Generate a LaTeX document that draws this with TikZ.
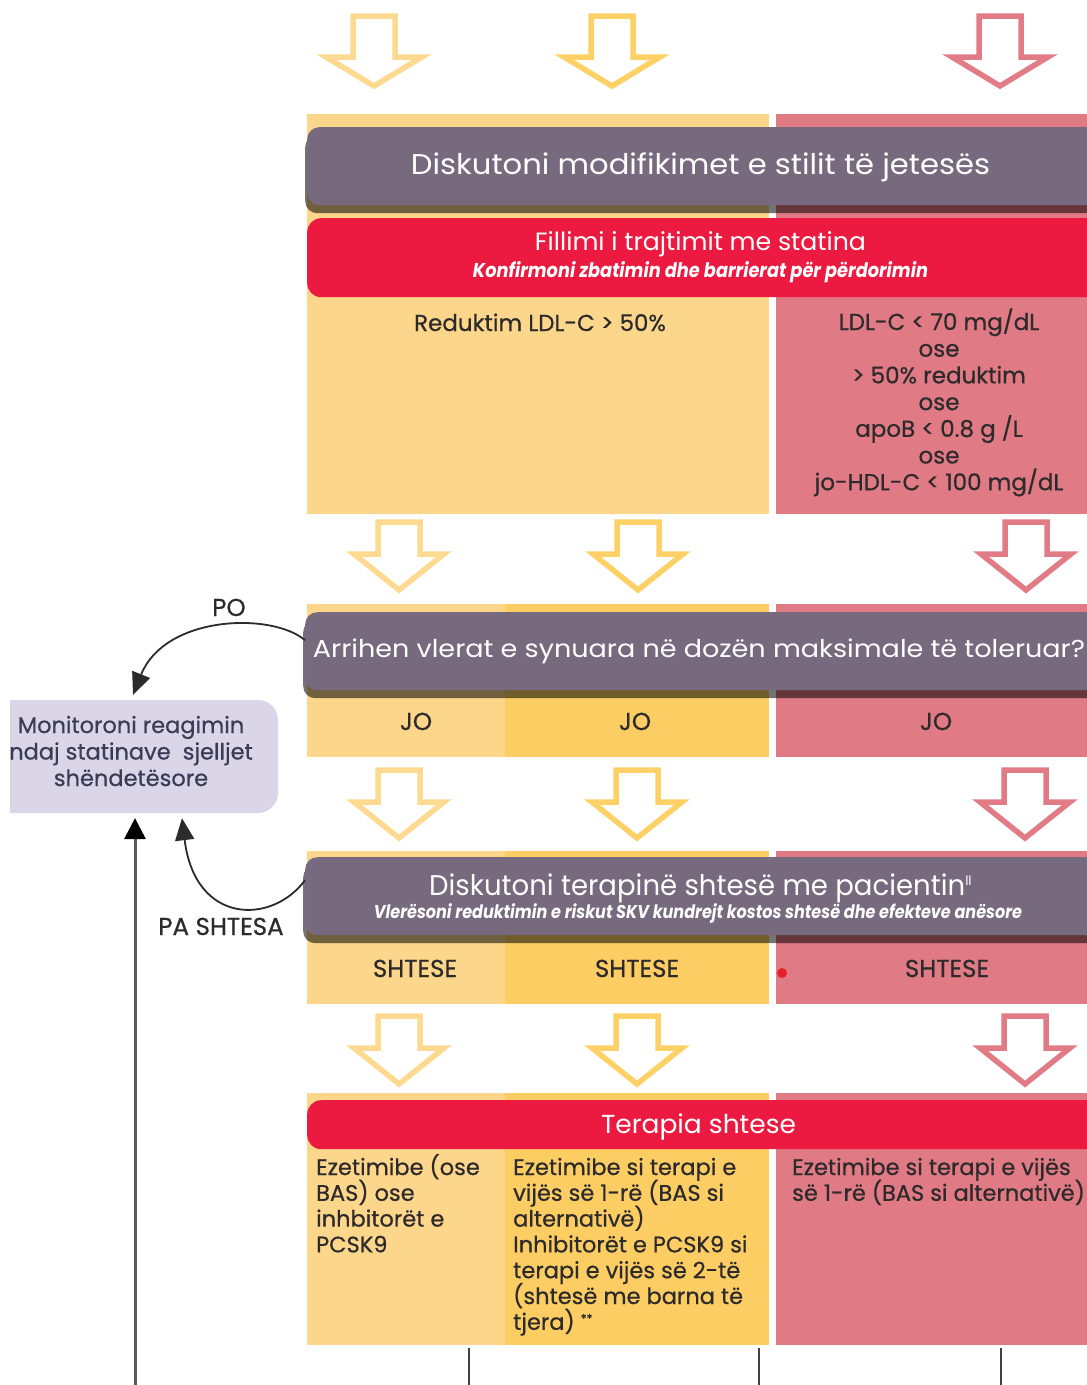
\documentclass[tikz,border=0pt]{standalone}
\usepackage{fontspec}
\usepackage{graphicx}
\setmainfont{Poppins}
\newfontfamily\med{Poppins}[FakeBold=0.6]
\usetikzlibrary{arrows.meta}
\definecolor{ylight}{HTML}{FCD68A}
\definecolor{ymid}{HTML}{FCCD63}
\definecolor{redcol}{HTML}{E07A84}
\definecolor{graybar}{HTML}{786A7E}
\definecolor{redbar}{HTML}{EC1A40}
\definecolor{lav}{HTML}{DAD6E8}
\definecolor{arrL}{HTML}{FDDA8F}
\definecolor{arrM}{HTML}{FDD165}
\definecolor{arrR}{HTML}{E17C86}
\definecolor{labc}{HTML}{2D2A2B}
\definecolor{monc}{HTML}{3A3B55}
\definecolor{dotc}{HTML}{E5202A}
\newcommand\fitw[2]{\resizebox{#1}{\height}{#2}}
\newcommand\dnarrow[7]{% cx, top, shoulder, tip, halfhead, halfshaft, colour
  \draw[#7, line width=5.5pt, fill=white, line join=miter]
    (#1-#6,#2) -- (#1+#6,#2) -- (#1+#6,#3) -- (#1+#5,#3) -- (#1,#4)
    -- (#1-#5,#3) -- (#1-#6,#3) -- cycle;}
\tikzset{
  hdr/.style={text=white, font=\fontsize{28.5}{28.5}\selectfont, anchor=base, inner sep=0pt},
  hdrs/.style={text=white, font=\fontsize{25}{25}\selectfont, anchor=base, inner sep=0pt},
  sub/.style={text=white, font=\fontsize{20}{20}\selectfont\bfseries\itshape, anchor=base, inner sep=0pt},
  lab/.style={text=labc, font=\med\fontsize{23}{23}\selectfont, anchor=base, inner sep=0pt},
  caps/.style={text=labc, font=\med\fontsize{24.5}{24.5}\selectfont, anchor=base, inner sep=0pt},
  body/.style={text=labc, font=\med\fontsize{22.5}{22.5}\selectfont, anchor=base west, inner sep=0pt},
  montxt/.style={text=monc, font=\med\fontsize{22.5}{22.5}\selectfont, anchor=base, inner sep=0pt},
  barnode/.style={fill=graybar, rounded corners=12pt, anchor=north west, minimum width=820pt, minimum height=78pt, inner sep=0pt},
  shadownode/.style={fill=black, opacity=0.55, rounded corners=12pt, anchor=north west, minimum width=820pt, minimum height=78pt, inner sep=0pt},
  redbarnode/.style={fill=redbar, rounded corners=14pt, anchor=north west, minimum width=820pt, inner sep=0pt},
  conn/.style={draw=labc, line width=1.8pt, -{Triangle[length=22pt,width=19pt]}},
  vconn/.style={draw=black!65, line width=3pt, -{Triangle[length=21pt,width=22pt,color=black,line width=0pt]}},
  botline/.style={draw=black!75, line width=2pt},
}
\begin{document}
\begin{tikzpicture}[x=1pt,y=-1pt]
\clip (0,0) rectangle (1087,1385);
\fill[white] (0,0) rectangle (1087,1385);

% ---------- top arrows ----------
\dnarrow{374}{16}{57}{86}{48}{21}{arrL}
\dnarrow{612}{16}{57}{86}{48}{21}{arrM}
\dnarrow{1000}{16}{57}{86}{48}{21}{arrR}

% ---------- section 1 ----------
\fill[ylight] (307,114) rectangle (769,514);
\fill[redcol] (776,114) rectangle (1087,514);
\node[shadownode] at (305,135) {};
\node[barnode] (bar1) at (307,127) {};
\node[hdr] (t1) at (700.5,174) {\fitw{579pt}{Diskutoni modifikimet e stilit të jetesës}};
\node[redbarnode, minimum height=79pt] (rbar1) at (307,218) {};
\node[hdrs] (t2) at (700.5,250) {\fitw{331pt}{Fillimi i trajtimit me statina}};
\node[sub] (t3) at (700.5,277) {\fitw{455pt}{Konfirmoni zbatimin dhe barrierat për përdorimin}};
\node[lab] (red1) at (540,331) {Reduktim LDL-C > 50\%};
\node[lab] (goal0) at (939,330) {LDL-C < 70 mg/dL};
\node[lab] (goal1) at (939,356.7) {ose};
\node[lab] (goal2) at (939,383.4) {> 50\% reduktim};
\node[lab] (goal3) at (939,410.1) {ose};
\node[lab] (goal4) at (939,436.8) {apoB < 0.8 g /L};
\node[lab] (goal5) at (939,463.5) {ose};
\node[lab] (goal6) at (939,490.2) {jo-HDL-C < 100 mg/dL};

% ---------- row 2 arrows ----------
\dnarrow{399}{522}{554}{590}{45}{21}{arrL}
\dnarrow{638}{522}{554}{590}{45}{21}{arrM}
\dnarrow{1026}{522}{554}{590}{45}{21}{arrR}

% ---------- section 2 ----------
\fill[ylight] (307,604) rectangle (505,757);
\fill[ymid] (505,604) rectangle (769,757);
\fill[redcol] (776,604) rectangle (1087,757);
\node[shadownode] at (303,620) {};
\node[barnode] (bar2) at (305,612) {};
\node[hdr, font=\fontsize{24.5}{24.5}\selectfont] (q2) at (699,657) {\fitw{772pt}{Arrihen vlerat e synuara në dozën maksimale të toleruar?}};
\node[caps] (jo1) at (416,730) {JO};
\node[caps] (jo2) at (635,730) {JO};
\node[caps] (jo3) at (936,730) {JO};

% ---------- row 3 arrows ----------
\dnarrow{399}{770}{802}{838}{45}{21}{arrL}
\dnarrow{637}{770}{802}{838}{45}{21}{arrM}
\dnarrow{1025}{770}{802}{838}{45}{21}{arrR}

% ---------- section 3 ----------
\fill[ylight] (307,851) rectangle (505,1004);
\fill[ymid] (505,851) rectangle (769,1004);
\fill[redcol] (776,851) rectangle (1087,1004);
\node[shadownode] at (303,865) {};
\node[barnode] (bar3) at (305,857) {};
\node[hdr, anchor=base west] (q3) at (429,895) {\fitw{536pt}{Diskutoni terapinë shtesë me pacientin}\raisebox{10pt}{\fontsize{13}{13}\selectfont ll}};
\node[sub, font=\fontsize{18.5}{18.5}\selectfont\bfseries\itshape] (q3s) at (698,918) {\fitw{648pt}{Vlerësoni reduktimin e riskut SKV kundrejt kostos shtesë dhe efekteve anësore}};
\node[caps] (sh1) at (415,977) {SHTESE};
\node[caps] (sh2) at (637,977) {SHTESE};
\node[caps] (sh3) at (947,977) {SHTESE};
\fill[dotc] (782,973) circle (5);

% ---------- row 4 arrows ----------
\dnarrow{399}{1016}{1048}{1084}{45}{21}{arrL}
\dnarrow{637}{1016}{1048}{1084}{45}{21}{arrM}
\dnarrow{1025}{1016}{1048}{1084}{45}{21}{arrR}

% ---------- section 4 ----------
\fill[ylight] (307,1093) rectangle (505,1345);
\fill[ymid] (505,1093) rectangle (769,1345);
\fill[redcol] (776,1093) rectangle (1087,1345);
\node[redbarnode, minimum height=49pt] (rbar2) at (307,1100) {};
\node[hdr, font=\fontsize{26}{26}\selectfont] (ter) at (698.5,1133) {\fitw{195pt}{Terapia shtese}};
\node[body] (a0) at (316,1175) {Ezetimibe (ose};
\node[body] (a1) at (316,1200.8) {BAS) ose};
\node[body] (a2) at (316,1226.6) {inhbitorët e};
\node[body] (a3) at (316,1252.4) {PCSK9};
\node[body] (b0) at (513,1175) {Ezetimibe si terapi e};
\node[body] (b1) at (513,1200.8) {vijës së 1-rë (BAS si};
\node[body] (b2) at (513,1226.6) {alternativë)};
\node[body] (b3) at (513,1252.4) {Inhibitorët e PCSK9 si};
\node[body] (b4) at (513,1278.2) {terapi e vijës së 2-të};
\node[body] (b5) at (513,1304) {(shtesë me barna të};
\node[body] (b6) at (513,1329.8) {tjera) \raisebox{7pt}{\fontsize{12}{12}\selectfont **}};
\node[body] (c0) at (792,1175) {Ezetimibe si terapi e vijës};
\node[body] (c1) at (792,1200.8) {së 1-rë (BAS si alternativë)};

\coordinate (l1a) at (469,1348); \coordinate (l1b) at (469,1385);
\coordinate (l2a) at (759,1348); \coordinate (l2b) at (759,1385);
\coordinate (l3a) at (1001,1348); \coordinate (l3b) at (1001,1385);
\draw[botline] (l1a) -- (l1b);
\draw[botline] (l2a) -- (l2b);
\draw[botline] (l3a) -- (l3b);

% ---------- left side ----------
\fill[lav] (10,700) [rounded corners=20pt] -- (278,700) -- (278,813) [sharp corners] -- (10,813) -- cycle;
\node[minimum width=268pt, minimum height=113pt, inner sep=0pt] (mon) at (144,756.5) {};
\node[montxt] (m1) at (131,733) {Monitoroni reagimin};
\node[montxt] (m2) at (131,759.5) {ndaj statinave\ \ sjelljet};
\node[montxt] (m3) at (131,786) {shëndetësore};
\node[caps] (po) at (229,616) {PO};
\node[caps] (pa) at (221,935) {PA SHTESA};

\draw[conn] ([yshift=11pt]bar2.west) .. controls (272,612) and (165,615) .. ([xshift=-11pt,yshift=5pt]mon.north);
\draw[conn] ([yshift=16pt]bar3.west) .. controls (272,925) and (195,925) .. ([xshift=38pt,yshift=-5pt]mon.south);
\coordinate (vbot) at (135,1385);
\draw[vconn] (vbot) -- ([xshift=-9pt,yshift=-5pt]mon.south);
\end{tikzpicture}
\end{document}
